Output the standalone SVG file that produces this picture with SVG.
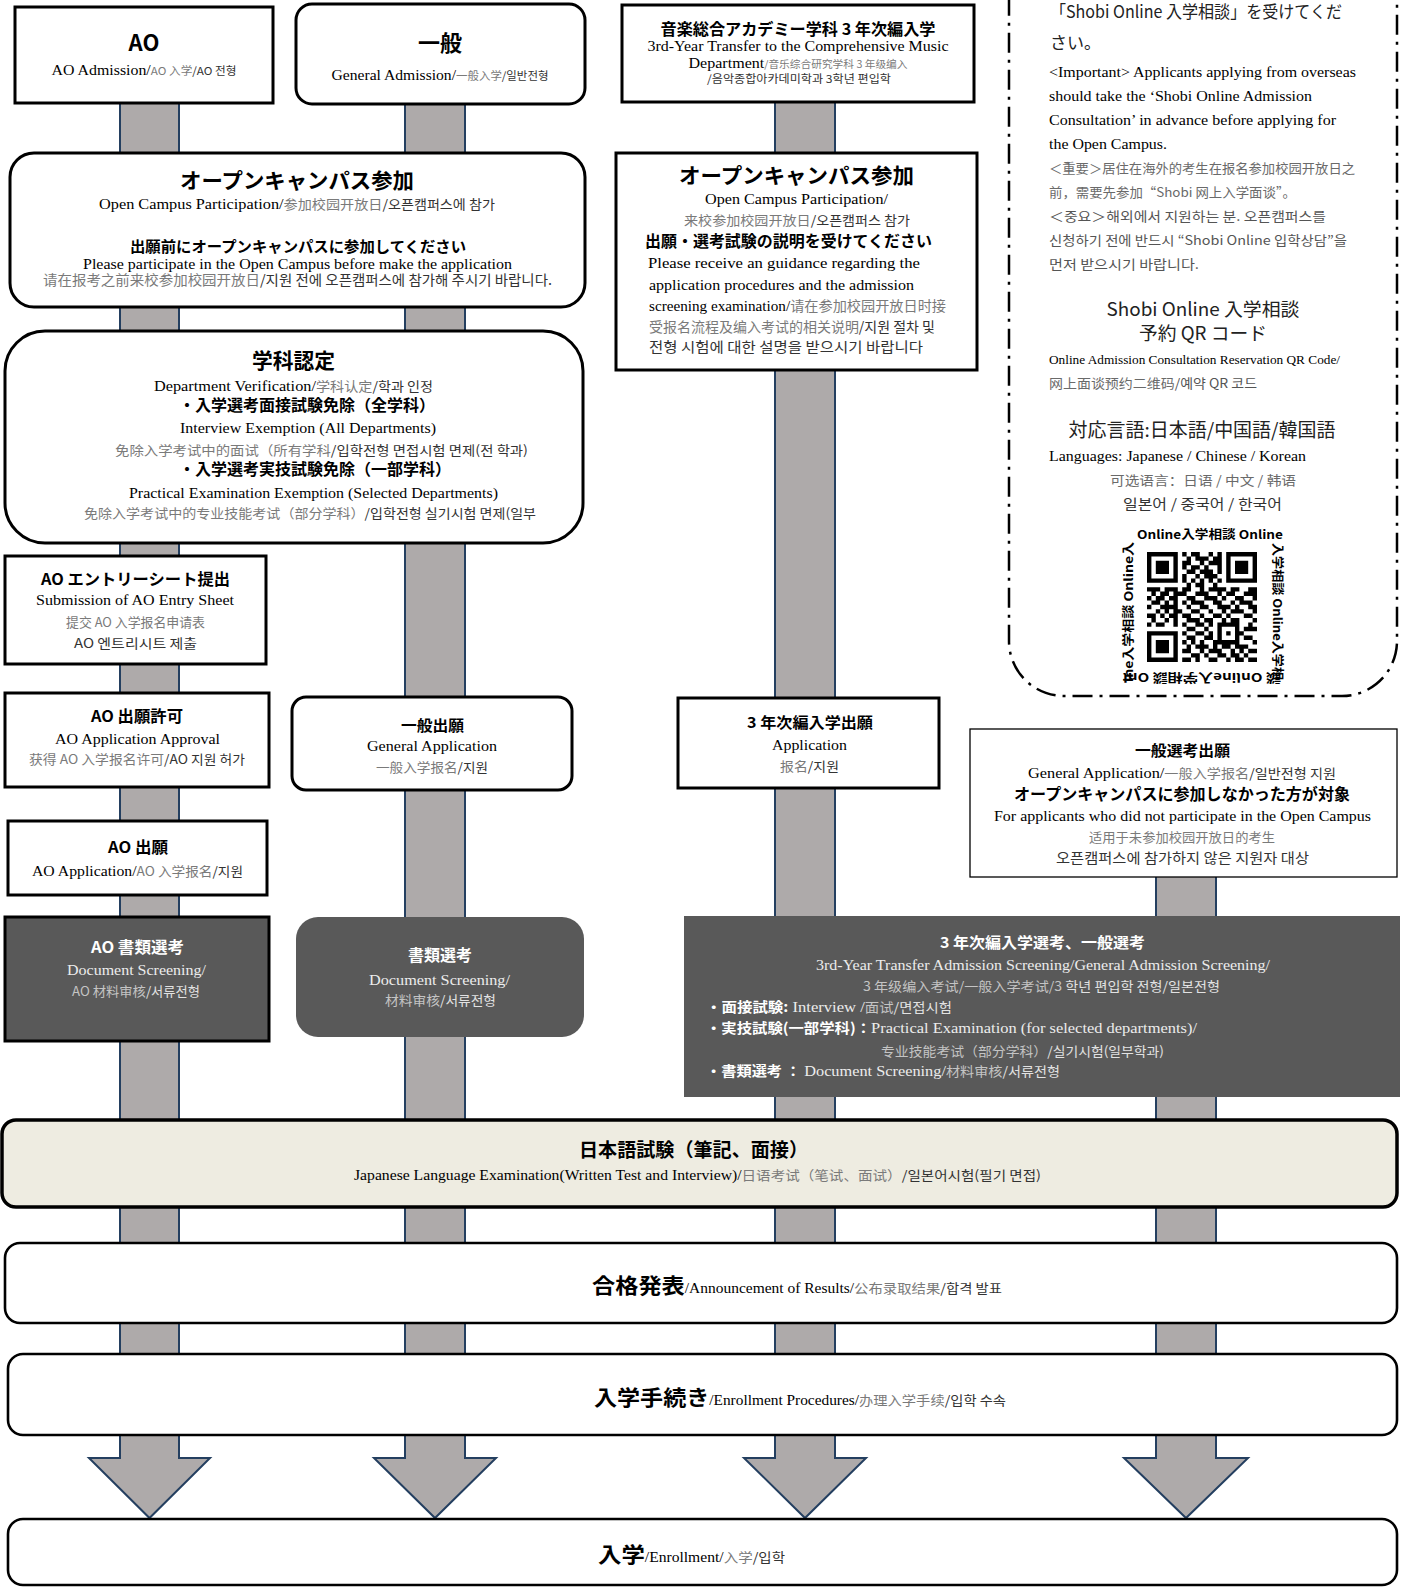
<svg xmlns="http://www.w3.org/2000/svg" width="1407" height="1587" viewBox="0 0 1407 1587">
<style>
text{font-family:"Liberation Serif",serif;fill:#000}
.c{text-anchor:middle}
.jb{font-family:"Noto Sans CJK JP",sans-serif;font-weight:700}
.jp{font-family:"Noto Sans CJK JP",sans-serif;fill:#222}
.zh{font-family:"Noto Sans CJK SC",sans-serif;fill:#7a7a7a}
.ko{font-family:"Noto Sans CJK KR",sans-serif;fill:#333}
.box{fill:#fff;stroke:#000;stroke-width:3}
.thin{fill:#fff;stroke:#000;stroke-width:1.3}
.wide{fill:#fff;stroke:#000;stroke-width:2.6}
.darkbox{fill:#595959}
.bar{fill:#aeaaaa;stroke:#243f60;stroke-width:2}
.dk text{fill:#ececec}
.dk .w{fill:#fff}
.dk .zh{fill:#c4c4c4}
.dk .ko{fill:#e2e2e2}
.pn .zh{fill:#6a6a6a}
.pn .ko{fill:#555}
.qr{font-family:"Noto Sans CJK JP",sans-serif;font-weight:700;fill:#000}
</style>

<g id="connectors">
<path class="bar" d="M120 100V1458H89L149.5 1518L210 1458H179V100Z"/>
<path class="bar" d="M405 100V1458H374L435 1518L496 1458H465V100Z"/>
<path class="bar" d="M775 100V1458H744L805 1518L866 1458H835V100Z"/>
<path class="bar" d="M1156 870V1458H1124L1186 1518L1248 1458H1216V870Z"/>
</g>

<g id="node-ao">
<rect class="box" x="15" y="7" width="258" height="96"/>
<text class="c jb" x="144" y="51" font-size="22">AO</text>
<text class="c" x="144" y="75" font-size="15" textLength="185" lengthAdjust="spacingAndGlyphs">AO Admission/<tspan class="zh" font-size="11">AO 入学</tspan><tspan class="ko" font-size="11">/AO 전형</tspan></text>
</g>

<g id="node-ippan">
<rect class="box" x="296" y="4" width="289" height="100" rx="16"/>
<text class="c jb" x="440" y="51" font-size="22">一般</text>
<text class="c" x="440" y="80" font-size="15" textLength="217" lengthAdjust="spacingAndGlyphs">General Admission/<tspan class="zh" font-size="11">一般入学</tspan><tspan class="ko" font-size="11">/일반전형</tspan></text>
</g>

<g id="node-music">
<rect class="box" x="622" y="5" width="352" height="97"/>
<text class="c jb" x="798" y="35" font-size="16" textLength="275" lengthAdjust="spacingAndGlyphs">音楽総合アカデミー学科 3 年次編入学</text>
<text class="c" x="798" y="51" font-size="15" textLength="301" lengthAdjust="spacingAndGlyphs">3rd-Year Transfer to the Comprehensive Music</text>
<text class="c" x="798" y="68" font-size="15" textLength="219" lengthAdjust="spacingAndGlyphs">Department<tspan class="zh" font-size="10">/音乐综合研究学科 3 年级编入</tspan></text>
<text class="c" x="799" y="83" font-size="11" textLength="184" lengthAdjust="spacingAndGlyphs"><tspan class="ko">/음악종합아카데미학과 3학년 편입학</tspan></text>
</g>

<g id="node-opencampus-left">
<rect class="box" x="10" y="153" width="575" height="154" rx="24"/>
<text class="c jb" x="297" y="188" font-size="21" textLength="234" lengthAdjust="spacingAndGlyphs">オープンキャンパス参加</text>
<text class="c" x="297" y="209" font-size="15" textLength="396" lengthAdjust="spacingAndGlyphs">Open Campus Participation/<tspan class="zh" font-size="13">参加校园开放日</tspan><tspan class="ko" font-size="13">/오픈캠퍼스에 참가</tspan></text>
<text class="c jb" x="298" y="252" font-size="15.3" textLength="336" lengthAdjust="spacingAndGlyphs">出願前にオープンキャンパスに参加してください</text>
<text class="c" x="297.5" y="269" font-size="15" textLength="429" lengthAdjust="spacingAndGlyphs">Please participate in the Open Campus before make the application</text>
<text class="c" x="297.5" y="285" font-size="14" textLength="509" lengthAdjust="spacingAndGlyphs"><tspan class="zh">请在报考之前来校参加校园开放日</tspan><tspan class="ko">/지원 전에 오픈캠퍼스에 참가해 주시기 바랍니다.</tspan></text>
</g>

<g id="node-opencampus-music">
<rect class="box" x="616" y="153" width="361" height="217"/>
<text class="c jb" x="796.5" y="183" font-size="21" textLength="235" lengthAdjust="spacingAndGlyphs">オープンキャンパス参加</text>
<text class="c" x="796.5" y="203.5" font-size="15" textLength="183" lengthAdjust="spacingAndGlyphs">Open Campus Participation/</text>
<text class="c" x="797" y="224.5" font-size="13" textLength="226" lengthAdjust="spacingAndGlyphs"><tspan class="zh">来校参加校园开放日</tspan><tspan class="ko">/오픈캠퍼스 참가</tspan></text>
<text class="jb" x="645" y="247" font-size="16" textLength="287" lengthAdjust="spacingAndGlyphs">出願・選考試験の説明を受けてください</text>
<text x="648" y="268" font-size="15" textLength="272" lengthAdjust="spacingAndGlyphs">Please receive an guidance regarding the</text>
<text x="649" y="289.5" font-size="15" textLength="265" lengthAdjust="spacingAndGlyphs">application procedures and the admission</text>
<text x="649" y="310.5" font-size="15" textLength="297" lengthAdjust="spacingAndGlyphs">screening examination/<tspan class="zh" font-size="14">请在参加校园开放日时接</tspan></text>
<text x="649" y="332" font-size="14" textLength="286" lengthAdjust="spacingAndGlyphs"><tspan class="zh">受报名流程及编入考试的相关说明</tspan><tspan class="ko">/지원 절차 및</tspan></text>
<text x="649" y="352" font-size="14" textLength="274" lengthAdjust="spacingAndGlyphs"><tspan class="ko">전형 시험에 대한 설명을 받으시기 바랍니다</tspan></text>
</g>

<g id="node-gakka">
<rect class="box" x="5" y="331" width="578" height="212" rx="40"/>
<text class="c jb" x="293.5" y="368" font-size="21" textLength="83" lengthAdjust="spacingAndGlyphs">学科認定</text>
<text class="c" x="293.5" y="390.5" font-size="15" textLength="279" lengthAdjust="spacingAndGlyphs">Department Verification/<tspan class="zh" font-size="13">学科认定</tspan><tspan class="ko" font-size="13">/학과 인정</tspan></text>
<text class="jb" x="179" y="411" font-size="16" textLength="256" lengthAdjust="spacingAndGlyphs">・入学選考面接試験免除（全学科）</text>
<text class="c" x="308" y="433" font-size="15" textLength="256" lengthAdjust="spacingAndGlyphs">Interview Exemption (All Departments)</text>
<text class="c" x="321.5" y="454.5" font-size="13" textLength="413" lengthAdjust="spacingAndGlyphs"><tspan class="zh">免除入学考试中的面试（所有学科</tspan><tspan class="ko">/입학전형 면접시험 면제(전 학과)</tspan></text>
<text class="jb" x="179" y="474.5" font-size="16" textLength="272" lengthAdjust="spacingAndGlyphs">・入学選考実技試験免除（一部学科）</text>
<text class="c" x="313.5" y="498" font-size="15" textLength="369" lengthAdjust="spacingAndGlyphs">Practical Examination Exemption (Selected Departments)</text>
<text class="c" x="310" y="518" font-size="13" textLength="452" lengthAdjust="spacingAndGlyphs"><tspan class="zh">免除入学考试中的专业技能考试（部分学科）</tspan><tspan class="ko">/입학전형 실기시험 면제(일부</tspan></text>
</g>

<g id="node-ao-entry">
<rect class="box" x="5" y="556" width="261" height="108"/>
<text class="c jb" x="135.5" y="585" font-size="16" textLength="189" lengthAdjust="spacingAndGlyphs">AO エントリーシート提出</text>
<text class="c" x="135" y="605" font-size="15" textLength="198" lengthAdjust="spacingAndGlyphs">Submission of AO Entry Sheet</text>
<text class="c" x="135.5" y="627" font-size="13" textLength="139" lengthAdjust="spacingAndGlyphs"><tspan class="zh">提交 AO 入学报名申请表</tspan></text>
<text class="c" x="135.5" y="647.5" font-size="13" textLength="123" lengthAdjust="spacingAndGlyphs"><tspan class="ko">AO 엔트리시트 제출</tspan></text>
</g>

<g id="node-ao-approval">
<rect class="box" x="5" y="693" width="264" height="94"/>
<text class="c jb" x="137" y="721.5" font-size="16" textLength="92" lengthAdjust="spacingAndGlyphs">AO 出願許可</text>
<text class="c" x="137.5" y="744" font-size="15" textLength="165" lengthAdjust="spacingAndGlyphs">AO Application Approval</text>
<text class="c" x="137" y="764" font-size="13" textLength="216" lengthAdjust="spacingAndGlyphs"><tspan class="zh">获得 AO 入学报名许可</tspan><tspan class="ko">/AO 지원 허가</tspan></text>
</g>

<g id="node-ippan-apply">
<rect class="box" x="292" y="697" width="280" height="93" rx="14"/>
<text class="c jb" x="432.5" y="730.5" font-size="15" textLength="63" lengthAdjust="spacingAndGlyphs">一般出願</text>
<text class="c" x="432" y="751" font-size="15" textLength="130" lengthAdjust="spacingAndGlyphs">General Application</text>
<text class="c" x="432" y="772" font-size="13" textLength="112" lengthAdjust="spacingAndGlyphs"><tspan class="zh">一般入学报名</tspan><tspan class="ko">/지원</tspan></text>
</g>

<g id="node-music-apply">
<rect class="box" x="678" y="698" width="261" height="90"/>
<text class="c jb" x="810" y="727.5" font-size="15" textLength="126" lengthAdjust="spacingAndGlyphs">3 年次編入学出願</text>
<text class="c" x="809.5" y="750" font-size="15" textLength="75" lengthAdjust="spacingAndGlyphs">Application</text>
<text class="c" x="809.5" y="771" font-size="13" textLength="59" lengthAdjust="spacingAndGlyphs"><tspan class="zh">报名</tspan><tspan class="ko">/지원</tspan></text>
</g>

<g id="node-general-apply">
<rect class="thin" x="970" y="729" width="427" height="148"/>
<text class="c jb" x="1182.5" y="756" font-size="15" textLength="95" lengthAdjust="spacingAndGlyphs">一般選考出願</text>
<text class="c" x="1182" y="778" font-size="15" textLength="308" lengthAdjust="spacingAndGlyphs">General Application/<tspan class="zh" font-size="13">一般入学报名</tspan><tspan class="ko" font-size="13">/일반전형 지원</tspan></text>
<text class="c jb" x="1182" y="799.5" font-size="16" textLength="336" lengthAdjust="spacingAndGlyphs">オープンキャンパスに参加しなかった方が対象</text>
<text class="c" x="1182.5" y="821" font-size="15" textLength="377" lengthAdjust="spacingAndGlyphs">For applicants who did not participate in the Open Campus</text>
<text class="c" x="1182" y="842" font-size="13" textLength="186" lengthAdjust="spacingAndGlyphs"><tspan class="zh">适用于未参加校园开放日的考生</tspan></text>
<text class="c" x="1182.5" y="863" font-size="14" textLength="253" lengthAdjust="spacingAndGlyphs"><tspan class="ko">오픈캠퍼스에 참가하지 않은 지원자 대상</tspan></text>
</g>

<g id="node-ao-apply">
<rect class="box" x="8" y="821" width="259" height="74"/>
<text class="c jb" x="138" y="853" font-size="16" textLength="60" lengthAdjust="spacingAndGlyphs">AO 出願</text>
<text class="c" x="137.5" y="875.5" font-size="15" textLength="211" lengthAdjust="spacingAndGlyphs">AO Application/<tspan class="zh" font-size="13">AO 入学报名</tspan><tspan class="ko" font-size="13">/지원</tspan></text>
</g>

<g id="node-ao-doc" class="dk">
<rect class="darkbox" x="5" y="917" width="264" height="124" stroke="#000" stroke-width="3"/>
<text class="c jb w" x="137.5" y="953" font-size="16" textLength="93" lengthAdjust="spacingAndGlyphs">AO 書類選考</text>
<text class="c" x="136.5" y="974.5" font-size="15" textLength="139" lengthAdjust="spacingAndGlyphs">Document Screening/</text>
<text class="c" x="136" y="996" font-size="13" textLength="128" lengthAdjust="spacingAndGlyphs"><tspan class="zh">AO 材料审核</tspan><tspan class="ko">/서류전형</tspan></text>
</g>

<g id="node-doc" class="dk">
<rect class="darkbox" x="296" y="917" width="288" height="120" rx="22"/>
<text class="c jb w" x="440" y="960.5" font-size="16" textLength="64" lengthAdjust="spacingAndGlyphs">書類選考</text>
<text class="c" x="439.5" y="985" font-size="15" textLength="141" lengthAdjust="spacingAndGlyphs">Document Screening/</text>
<text class="c" x="440.5" y="1005" font-size="13" textLength="111" lengthAdjust="spacingAndGlyphs"><tspan class="zh">材料审核</tspan><tspan class="ko">/서류전형</tspan></text>
</g>

<g id="node-transfer-screening" class="dk">
<rect class="darkbox" x="684" y="916" width="716" height="181"/>
<text class="c jb w" x="1042.5" y="948" font-size="15" textLength="205" lengthAdjust="spacingAndGlyphs">3 年次編入学選考、一般選考</text>
<text class="c" x="1043" y="970" font-size="15" textLength="454" lengthAdjust="spacingAndGlyphs">3rd-Year Transfer Admission Screening/General Admission Screening/</text>
<text class="c" x="1041.5" y="991" font-size="13" textLength="357" lengthAdjust="spacingAndGlyphs"><tspan class="zh">3 年级编入考试/一般入学考试/3</tspan><tspan class="ko"> 학년 편입학 전형/일본전형</tspan></text>
<text x="706" y="1012" font-size="15" textLength="246" lengthAdjust="spacingAndGlyphs"><tspan class="jb w" font-size="14">・面接試験:</tspan> Interview /<tspan class="zh" font-size="13">面试</tspan><tspan class="ko" font-size="13">/면접시험</tspan></text>
<text x="706" y="1033" font-size="15" textLength="491" lengthAdjust="spacingAndGlyphs"><tspan class="jb w" font-size="14">・実技試験(一部学科)：</tspan>Practical Examination (for selected departments)/</text>
<text class="c" x="1022.5" y="1055.5" font-size="13" textLength="283" lengthAdjust="spacingAndGlyphs"><tspan class="zh">专业技能考试（部分学科）</tspan><tspan class="ko">/실기시험(일부학과)</tspan></text>
<text x="706" y="1076" font-size="15" textLength="354" lengthAdjust="spacingAndGlyphs"><tspan class="jb w" font-size="14">・書類選考 ： </tspan>Document Screening/<tspan class="zh" font-size="13">材料审核</tspan><tspan class="ko" font-size="13">/서류전형</tspan></text>
</g>

<g id="node-japanese-exam">
<rect x="2" y="1120" width="1395" height="87" rx="14" fill="#eeece1" stroke="#000" stroke-width="3.5"/>
<text class="c jb" x="693.5" y="1157" font-size="19" textLength="229" lengthAdjust="spacingAndGlyphs">日本語試験（筆記、面接）</text>
<text class="c" x="697.5" y="1180" font-size="14" textLength="687" lengthAdjust="spacingAndGlyphs">Japanese Language Examination(Written Test and Interview)/<tspan class="zh" font-size="13">日语考试（笔试、面试）</tspan><tspan class="ko" font-size="13">/일본어시험(필기 면접)</tspan></text>
</g>

<g id="node-results">
<rect class="wide" x="5" y="1243" width="1392" height="80" rx="15"/>
<text class="c" x="797" y="1293" font-size="14" textLength="410" lengthAdjust="spacingAndGlyphs"><tspan class="jb" font-size="21">合格発表</tspan>/Announcement of Results/<tspan class="zh" font-size="13">公布录取结果</tspan><tspan class="ko" font-size="13">/합격 발표</tspan></text>
</g>

<g id="node-procedures">
<rect class="wide" x="8" y="1354" width="1389" height="81" rx="15"/>
<text class="c" x="800" y="1405" font-size="14" textLength="412" lengthAdjust="spacingAndGlyphs"><tspan class="jb" font-size="21">入学手続き</tspan>/Enrollment Procedures/<tspan class="zh" font-size="13">办理入学手续</tspan><tspan class="ko" font-size="13">/입학 수속</tspan></text>
</g>

<g id="node-enrollment">
<rect class="wide" x="8" y="1519" width="1389" height="66" rx="15"/>
<text class="c" x="691.5" y="1562" font-size="14" textLength="187" lengthAdjust="spacingAndGlyphs"><tspan class="jb" font-size="21">入学</tspan>/Enrollment/<tspan class="zh" font-size="13">入学</tspan><tspan class="ko" font-size="13">/입학</tspan></text>
</g>

<g id="node-online-consultation" class="pn">
<rect x="1009" y="-120" width="388" height="816" rx="55" fill="#fff" stroke="#000" stroke-width="2.5" stroke-dasharray="20 7 3 7"/>
<text class="jp" x="1050" y="17.5" font-size="17" textLength="292" lengthAdjust="spacingAndGlyphs">「Shobi Online 入学相談」を受けてくだ</text>
<text class="jp" x="1050" y="48.5" font-size="17">さい。</text>
<text x="1049" y="77" font-size="15" textLength="307" lengthAdjust="spacingAndGlyphs">&lt;Important&gt; Applicants applying from overseas</text>
<text x="1049" y="101" font-size="15" textLength="263" lengthAdjust="spacingAndGlyphs">should take the ‘Shobi Online Admission</text>
<text x="1049" y="125" font-size="15" textLength="287" lengthAdjust="spacingAndGlyphs">Consultation’ in advance before applying for</text>
<text x="1049" y="149" font-size="15" textLength="118" lengthAdjust="spacingAndGlyphs">the Open Campus.</text>
<text x="1049" y="173" font-size="13" textLength="306" lengthAdjust="spacingAndGlyphs"><tspan class="zh">＜重要＞居住在海外的考生在报名参加校园开放日之</tspan></text>
<text x="1049" y="197" font-size="13" textLength="247" lengthAdjust="spacingAndGlyphs"><tspan class="zh">前，需要先参加“Shobi 网上入学面谈”。</tspan></text>
<text x="1049" y="221" font-size="13" textLength="277" lengthAdjust="spacingAndGlyphs"><tspan class="ko">＜중요＞해외에서 지원하는 분. 오픈캠퍼스를</tspan></text>
<text x="1049" y="245" font-size="13" textLength="298" lengthAdjust="spacingAndGlyphs"><tspan class="ko">신청하기 전에 반드시 “Shobi Online 입학상담”을</tspan></text>
<text x="1049" y="269" font-size="13" textLength="150" lengthAdjust="spacingAndGlyphs"><tspan class="ko">먼저 받으시기 바랍니다.</tspan></text>
<text class="c jp" x="1203" y="316" font-size="18.5" textLength="193" lengthAdjust="spacingAndGlyphs">Shobi Online 入学相談</text>
<text class="c jp" x="1203" y="340" font-size="18.5" textLength="128" lengthAdjust="spacingAndGlyphs">予約 QR コード</text>
<text x="1049" y="364" font-size="13" textLength="291" lengthAdjust="spacingAndGlyphs">Online Admission Consultation Reservation QR Code/</text>
<text x="1049" y="388" font-size="13" textLength="208" lengthAdjust="spacingAndGlyphs"><tspan class="zh">网上面谈预约二维码</tspan><tspan class="ko">/예약 QR 코드</tspan></text>
<text class="c jp" x="1202" y="437" font-size="19" textLength="267" lengthAdjust="spacingAndGlyphs">対応言語:日本語/中国語/韓国語</text>
<text x="1049" y="461" font-size="15" textLength="257" lengthAdjust="spacingAndGlyphs">Languages: Japanese / Chinese / Korean</text>
<text class="c" x="1203" y="485" font-size="13" textLength="186" lengthAdjust="spacingAndGlyphs"><tspan class="zh">可选语言：日语 / 中文 / 韩语</tspan></text>
<text class="c" x="1202.5" y="509" font-size="14" textLength="159" lengthAdjust="spacingAndGlyphs"><tspan class="ko" style="fill:#333">일본어 / 중국어 / 한국어</tspan></text>
<text class="qr" x="1137" y="539" font-size="12" textLength="146" lengthAdjust="spacingAndGlyphs">Online入学相談 Online</text>
<text class="qr" transform="translate(1273 543) rotate(90)" font-size="12" textLength="137" lengthAdjust="spacingAndGlyphs">入学相談 Online入学相</text>
<text class="qr" transform="translate(1281 673) rotate(180)" font-size="12" textLength="158" lengthAdjust="spacingAndGlyphs">談 Online入学相談 Onl</text>
<text class="qr" transform="translate(1133 682) rotate(-90)" font-size="12" textLength="140" lengthAdjust="spacingAndGlyphs">ine入学相談 Online入</text>
<path transform="translate(1147 552) scale(4.4)" fill="#000" fill-rule="evenodd" d="M0 0h7v7h-7zM1 1h5v5h-5zM2 2h3v3h-3zM18 0h7v7h-7zM19 1h5v5h-5zM20 2h3v3h-3zM0 18h7v7h-7zM1 19h5v5h-5zM2 20h3v3h-3zM8 0h1v1h-1zM10 0h2v1h-2zM14 0h1v1h-1zM16 0h1v1h-1zM9 1h1v1h-1zM11 1h3v1h-3zM15 1h2v1h-2zM8 2h2v1h-2zM12 2h1v1h-1zM14 2h3v1h-3zM8 3h1v1h-1zM10 3h2v1h-2zM13 3h1v1h-1zM16 3h1v1h-1zM9 4h2v1h-2zM12 4h3v1h-3zM16 4h1v1h-1zM8 5h1v1h-1zM11 5h1v1h-1zM13 5h3v1h-3zM8 6h1v1h-1zM10 6h1v1h-1zM12 6h1v1h-1zM14 6h1v1h-1zM16 6h1v1h-1zM9 7h1v1h-1zM11 7h2v1h-2zM15 7h1v1h-1zM0 8h3v1h-3zM4 8h3v1h-3zM8 8h2v1h-2zM12 8h1v1h-1zM14 8h4v1h-4zM19 8h2v1h-2zM23 8h2v1h-2zM1 9h1v1h-1zM3 9h2v1h-2zM6 9h3v1h-3zM11 9h3v1h-3zM16 9h1v1h-1zM18 9h2v1h-2zM22 9h3v1h-3zM0 10h1v1h-1zM2 10h2v1h-2zM5 10h2v1h-2zM9 10h2v1h-2zM13 10h3v1h-3zM17 10h1v1h-1zM20 10h2v1h-2zM24 10h1v1h-1zM1 11h2v1h-2zM4 11h1v1h-1zM6 11h1v1h-1zM8 11h1v1h-1zM10 11h3v1h-3zM15 11h2v1h-2zM19 11h1v1h-1zM21 11h3v1h-3zM0 12h1v1h-1zM3 12h4v1h-4zM9 12h1v1h-1zM12 12h2v1h-2zM16 12h3v1h-3zM20 12h1v1h-1zM23 12h2v1h-2zM2 13h1v1h-1zM4 13h1v1h-1zM6 13h2v1h-2zM10 13h2v1h-2zM14 13h1v1h-1zM17 13h1v1h-1zM19 13h3v1h-3zM24 13h1v1h-1zM0 14h2v1h-2zM3 14h1v1h-1zM5 14h2v1h-2zM8 14h2v1h-2zM12 14h1v1h-1zM15 14h2v1h-2zM18 14h1v1h-1zM22 14h2v1h-2zM1 15h1v1h-1zM4 15h1v1h-1zM6 15h1v1h-1zM9 15h3v1h-3zM13 15h2v1h-2zM17 15h1v1h-1zM19 15h2v1h-2zM24 15h1v1h-1zM0 16h1v1h-1zM2 16h2v1h-2zM6 16h1v1h-1zM8 16h1v1h-1zM11 16h2v1h-2zM14 16h1v1h-1zM16 16h5v1h-5zM23 16h1v1h-1zM9 17h2v1h-2zM13 17h1v1h-1zM16 17h1v1h-1zM20 17h1v1h-1zM22 17h3v1h-3zM8 18h1v1h-1zM11 18h2v1h-2zM14 18h1v1h-1zM16 18h1v1h-1zM18 18h1v1h-1zM20 18h2v1h-2zM9 19h2v1h-2zM13 19h2v1h-2zM16 19h1v1h-1zM20 19h1v1h-1zM22 19h2v1h-2zM8 20h1v1h-1zM10 20h1v1h-1zM12 20h1v1h-1zM15 20h6v1h-6zM24 20h1v1h-1zM9 21h1v1h-1zM11 21h3v1h-3zM15 21h1v1h-1zM17 21h2v1h-2zM20 21h3v1h-3zM8 22h2v1h-2zM12 22h1v1h-1zM14 22h3v1h-3zM19 22h1v1h-1zM21 22h1v1h-1zM23 22h2v1h-2zM10 23h2v1h-2zM13 23h1v1h-1zM16 23h2v1h-2zM19 23h2v1h-2zM22 23h1v1h-1zM8 24h2v1h-2zM11 24h1v1h-1zM14 24h2v1h-2zM18 24h1v1h-1zM20 24h2v1h-2zM23 24h2v1h-2z"/>
</g>
</svg>
